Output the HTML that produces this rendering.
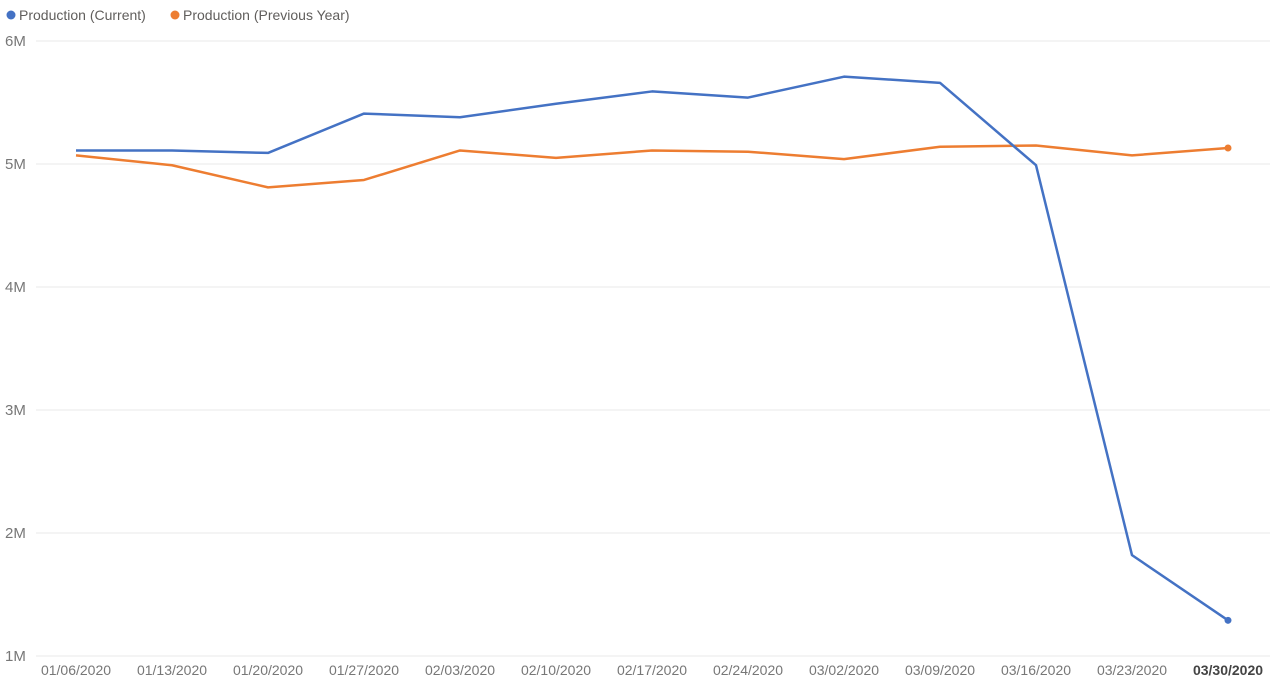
<!DOCTYPE html>
<html><head><meta charset="utf-8"><style>
body{margin:0;background:#fff;}
svg{display:block;font-family:"Liberation Sans",sans-serif;}
</style></head><body>
<svg id="c" width="1280" height="694">
<g>
<g><circle cx="11" cy="15" r="4.5" fill="#4472C4"/><text x="19" y="20" font-size="14" fill="#605E5C">Production (Current)</text></g>
<g><circle cx="175" cy="15" r="4.5" fill="#ED7D31"/><text x="183" y="20" font-size="14" fill="#605E5C">Production (Previous Year)</text></g>
</g>
<g id="grid"></g>
<g id="yax"></g>
<g id="xax"></g>
<g id="series"></g>
</svg>
<script>
const categories=["01/06/2020","01/13/2020","01/20/2020","01/27/2020","02/03/2020","02/10/2020","02/17/2020","02/24/2020","03/02/2020","03/09/2020","03/16/2020","03/23/2020","03/30/2020"];
const currentValues=[5.11,5.11,5.09,5.41,5.38,5.49,5.59,5.54,5.71,5.66,4.99,1.82,1.29];
const previousValues=[5.07,4.99,4.81,4.87,5.11,5.05,5.11,5.10,5.04,5.14,5.15,5.07,5.13];
const yTicks=[1,2,3,4,5,6];
const yTickLabels=["1M","2M","3M","4M","5M","6M"];
const NS="http://www.w3.org/2000/svg";
const x0=76,dx=96,yBase=656,pxPerM=123,yMin=1;
function xs(i){return x0+i*dx;}
function ys(v){return yBase-(v-yMin)*pxPerM;}
function mk(tag,attrs,parent){const e=document.createElementNS(NS,tag);for(const k in attrs)e.setAttribute(k,attrs[k]);parent.appendChild(e);return e;}
const grid=document.getElementById('grid'),yax=document.getElementById('yax'),xax=document.getElementById('xax'),ser=document.getElementById('series');
yTicks.forEach((t,i)=>{
 const l=mk('line',{x1:36,x2:1270,y1:ys(t),y2:ys(t),stroke:'#E8E8E8','stroke-width':1},grid);
 
 
 const tx=mk('text',{x:5,y:ys(t)+5,'font-size':15,fill:'#777'},yax);
 tx.textContent=yTickLabels[i];
 
 
});
categories.forEach((c,i)=>{
 const last=i===categories.length-1;
 const tx=mk('text',{x:xs(i),y:675,'font-size':14,fill:last?'#444':'#777','text-anchor':'middle','font-weight':last?'bold':'normal'},xax);
 tx.textContent=c;
 
 
});
function draw(vals,color,name){
 const p=mk('polyline',{points:vals.map((v,i)=>xs(i)+','+ys(v)).join(' '),fill:'none',stroke:color,'stroke-width':2.5,'stroke-linejoin':'round'},ser);
 
 
 const n=vals.length-1;
 const d=mk('circle',{cx:xs(n),cy:ys(vals[n]),r:3.5,fill:color},ser);
 
 
}
draw(previousValues,'#ED7D31','previous-year');
draw(currentValues,'#4472C4','current');
</script>
</body></html>
